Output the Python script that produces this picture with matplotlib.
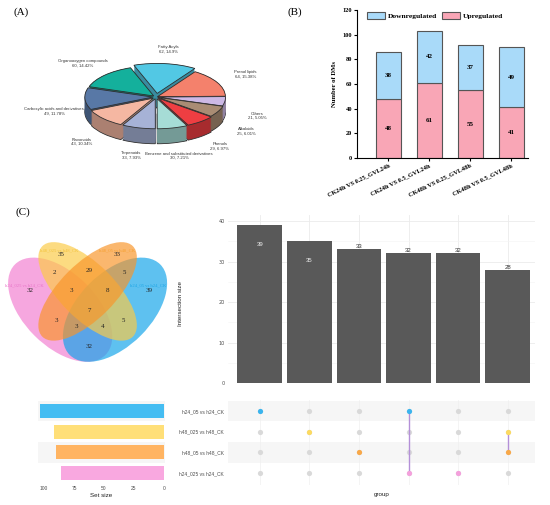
import numpy as np
import matplotlib
matplotlib.use("Agg")
import matplotlib.pyplot as plt
from matplotlib.patches import Ellipse
from matplotlib.colors import to_rgb

# ---------------- data ----------------
# (A) classes of metabolites
pie_names = ["Fatty Acyls", "Prenol lipids", "Others", "Alkaloids", "Phenols",
             "Benzene and substituted derivatives", "Terpenoids", "Flavonoids",
             "Carboxylic acids and derivatives", "Organooxygen compounds"]
pie_counts = [62, 64, 21, 25, 29, 30, 33, 43, 49, 60]
pie_colors = ["#52C8E4", "#F4816C", "#CDB9E6", "#A98C74", "#EE3E42",
              "#A6DCD6", "#A6B2D6", "#F5B7A2", "#5878A6", "#14B09C"]
pie_explode = [0.12, 0.02, 0.02, 0.03, 0.05, 0.06, 0.06, 0.06, 0.05, 0.05]

# (B) number of DMs
groups = ["CK24h VS 0.25_GVL24h", "CK24h VS 0.5_GVL24h",
          "CK48h VS 0.25_GVL48h", "CK48h VS 0.5_GVL48h"]
up = [48, 61, 55, 41]
down = [38, 42, 37, 49]

# (C) venn + upset
venn_names = ["h24_025 vs h24_CK", "h48_025 vs h48_CK", "h48_05 vs h48_CK", "h24_05 vs h24_CK"]
venn_counts = [32, 35, 33, 39, 2, 29, 5, 3, 8, 7, 3, 5, 3, 4, 32]

set_names = ["h24_05 vs h24_CK", "h48_025 vs h48_CK", "h48_05 vs h48_CK", "h24_025 vs h24_CK"]
set_sizes = [103, 92, 90, 86]
inter_sizes = [39, 35, 33, 32, 32, 28]
inter_members = [[0], [1], [2], [0, 3], [3], [1, 2]]

SERIF = "Liberation Serif"
SANS = "Liberation Sans"

fig = plt.figure(figsize=(5.5, 5.05), dpi=100)


def box(l, t, r, b):
    # pixel box -> figure fraction
    return [l / 550, 1 - b / 505, (r - l) / 550, (b - t) / 505]


def darker(c, f=0.7):
    return tuple(v * f for v in to_rgb(c))


# ---------------- (A) 3D-ish pie ----------------
axA = fig.add_axes(box(27, 40, 265, 163))
depth = 0.5
side = [darker(c) for c in pie_colors]
for d in np.linspace(-depth, 0, 18):
    lw = 0.6 if d == -depth else 0
    axA.pie(pie_counts, explode=pie_explode, colors=side, startangle=110,
            counterclock=False, center=(0, d),
            wedgeprops=dict(linewidth=lw, edgecolor="#2F2F2F"))
wedges, _ = axA.pie(pie_counts, explode=pie_explode, colors=pie_colors, startangle=110,
                    counterclock=False,
                    wedgeprops=dict(linewidth=0.6, edgecolor="#2F2F2F"))
total = sum(pie_counts)
for w, n, c in zip(wedges, pie_names, pie_counts):
    mid = np.deg2rad((w.theta1 + w.theta2) / 2)
    lx = 1.5 * np.cos(mid)
    ly = 1.6 * np.sin(mid)
    if ly < 0:
        ly -= 0.4
    axA.text(lx, ly, f"{n}\n{c}, {round(c / total * 100, 2):g}%", ha="center", va="center",
             fontsize=3.1, family=SANS, color="#333333", linespacing=1.1)
axA.set_aspect("auto")
axA.set_xlim(-1.9, 1.6)
axA.set_ylim(-2.2, 1.9)
axA.axis("off")

# ---------------- (B) stacked bars ----------------
axB = fig.add_axes(box(357, 10, 528, 158))
x = np.arange(len(groups))
b_up = axB.bar(x, up, width=0.61, color="#F9A6B6", edgecolor="#555555", lw=0.8, label="Upregulated")
b_dn = axB.bar(x, down, width=0.61, bottom=up, color="#A9DAF9", edgecolor="#555555", lw=0.8,
               label="Downregulated")
for i in range(len(groups)):
    axB.text(x[i], up[i] / 2, str(up[i]), ha="center", va="center", fontsize=5,
             fontweight="bold", family=SERIF)
    axB.text(x[i], up[i] + down[i] / 2, str(down[i]), ha="center", va="center", fontsize=5,
             fontweight="bold", family=SERIF)
axB.set_xlim(-0.76, 3.41)
axB.set_ylim(0, 120)
axB.set_yticks(range(0, 121, 20))
axB.set_xticks(x)
axB.set_xticklabels(groups, rotation=26, ha="right", rotation_mode="anchor")
for lab in axB.get_xticklabels() + axB.get_yticklabels():
    lab.set_fontfamily(SERIF)
    lab.set_fontweight("bold")
    lab.set_fontsize(4.6)
axB.tick_params(length=2, width=0.8, pad=1.5)
axB.spines[["top", "right"]].set_visible(False)
axB.spines[["left", "bottom"]].set_linewidth(0.8)
axB.set_ylabel("Number of DMs", fontsize=4.8, fontweight="bold", family=SERIF, labelpad=4)
axB.legend([b_dn, b_up], ["Downregulated", "Upregulated"], loc="upper left",
           bbox_to_anchor=(0.02, 1.03), ncol=2, frameon=False, handlelength=2.4,
           handleheight=1.0, columnspacing=0.6, handletextpad=0.4,
           prop=dict(family=SERIF, weight="bold", size=5.4))

# ---------------- (C) venn ----------------
axV = fig.add_axes(box(0, 231, 175, 375))
axV.set_xlim(0, 175)
axV.set_ylim(375, 231)
axV.axis("off")
# drawing order pink, blue, yellow, orange
ell = {
    0: (60.2, 309.7, 128, 73, 45, "#F27ED0"),
    3: (115.0, 309.7, 128, 73, -45, "#12A4EA"),
    1: (87.6, 291.4, 128, 55, 45, "#FCCB45"),
    2: (87.6, 291.4, 128, 55, -45, "#F9952A"),
}
for k in [0, 3, 1, 2]:
    cx, cy, w, h, a, c = ell[k]
    axV.add_patch(Ellipse((cx, cy), w, h, angle=a, facecolor=c, alpha=0.68, lw=0))
venn_pos = [(30, 290), (61, 254), (117, 254), (149, 290), (54, 273), (89, 270), (124, 273),
            (71, 290), (107, 290), (89, 311), (56, 320), (123, 320), (76, 327), (103, 327),
            (89, 347)]
for (px, py), n in zip(venn_pos, venn_counts):
    axV.text(px, py, str(n), ha="center", va="center", fontsize=5, family=SERIF, color="#222222")
name_pos = [(24, 285), (59, 250), (117, 250), (148, 285)]
name_col = ["#E874C8", "#F2C23A", "#F5A030", "#1EA6E6"]
for (px, py), n, c in zip(name_pos, venn_names, name_col):
    axV.text(px, py, n, ha="center", va="center", fontsize=3.3, family=SERIF, color=c)

fig.text(15 / 550, 1 - 212 / 505, "(C)", fontsize=8, family=SERIF, va="center")
fig.text(14 / 550, 1 - 12 / 505, "(A)", fontsize=8, family=SERIF, va="center")
fig.text(287 / 550, 1 - 12 / 505, "(B)", fontsize=8, family=SERIF, va="center")

# ---------------- (C) upset: intersection sizes ----------------
set_cols = ["#45BDF2", "#FFDF78", "#FFB462", "#F9A8E0"]
dot_cols = ["#3AB4EE", "#FCDA60", "#F8A848", "#F4A0DC"]
cols = np.arange(len(inter_sizes))
xl = (-0.64, 5.55)

axI = fig.add_axes(box(228, 215, 535, 383))
axI.set_axisbelow(True)
axI.bar(cols, inter_sizes, width=0.9, color="#595959")
for i, v in enumerate(inter_sizes):
    if v > 34:
        axI.text(i, v - 4.8, str(v), ha="center", va="center", fontsize=4.3, family=SANS,
                 color="#EEEEEE")
    else:
        axI.text(i, v, str(v), ha="center", va="bottom", fontsize=4.3, family=SANS,
                 color="#333333")
axI.set_xlim(*xl)
axI.set_ylim(0, 41.5)
axI.set_xticks(cols)
axI.set_xticklabels([])
axI.set_yticks(range(0, 41, 10))
axI.set_yticks(range(5, 41, 10), minor=True)
axI.grid(True, which="major", color="#EBEBEB", lw=0.6)
axI.grid(True, which="minor", axis="y", color="#F4F4F4", lw=0.4)
axI.tick_params(which="both", length=0, labelsize=3.5, labelcolor="#4D4D4D", pad=2)
for s in axI.spines.values():
    s.set_visible(False)
fig.text(180 / 550, 1 - 303 / 505, "Intersection size", rotation=90, ha="center", va="center",
         fontsize=4.5, family=SANS, color="#222222")

# ---------------- (C) upset: matrix ----------------
axM = fig.add_axes(box(228, 400, 535, 485))
axM.set_xlim(*xl)
axM.set_ylim(3.58, -0.53)
for r in [0, 2]:
    axM.axhspan(r - 0.5, r + 0.5, color="#F6F6F6", lw=0, zorder=0)
for j in cols:
    axM.axvline(j, color="#F0F0F0", lw=0.5, zorder=0)
    axM.scatter([j] * len(set_names), range(len(set_names)), s=14, color="#D9D9D9", lw=0, zorder=2)
    m = inter_members[j]
    if len(m) > 1:
        axM.plot([j, j], [min(m), max(m)], color="#B490D8", lw=1, zorder=3)
    for r in m:
        axM.scatter([j], [r], s=14, color=dot_cols[r], lw=0, zorder=4)
axM.set_yticks(range(len(set_names)))
axM.set_yticklabels(set_names)
axM.set_xticks([])
axM.tick_params(length=0, labelsize=3.5, labelcolor="#4D4D4D", pad=3)
for lab in axM.get_yticklabels():
    lab.set_fontfamily(SANS)
for s in axM.spines.values():
    s.set_visible(False)
axM.set_xlabel("group", fontsize=4.5, family=SANS, color="#222222", labelpad=5)

# ---------------- (C) upset: set sizes ----------------
axS = fig.add_axes(box(38, 400, 165, 485))
for r in [0, 2]:
    axS.axhspan(r - 0.5, r + 0.5, color="#F6F6F6", lw=0, zorder=0)
axS.barh(range(len(set_names)), set_sizes, height=0.68, color=set_cols, zorder=2)
axS.set_ylim(3.58, -0.53)
axS.set_xlim(105, -0.8)
axS.set_xticks([100, 75, 50, 25, 0])
axS.set_yticks([])
axS.tick_params(length=0, labelsize=3.5, labelcolor="#4D4D4D", pad=1)
for lab in axS.get_xticklabels():
    lab.set_fontfamily(SANS)
for s in axS.spines.values():
    s.set_visible(False)
axS.set_xlabel("Set size", fontsize=4.5, family=SANS, color="#222222", labelpad=1)

fig.savefig("out.png", dpi=100)
